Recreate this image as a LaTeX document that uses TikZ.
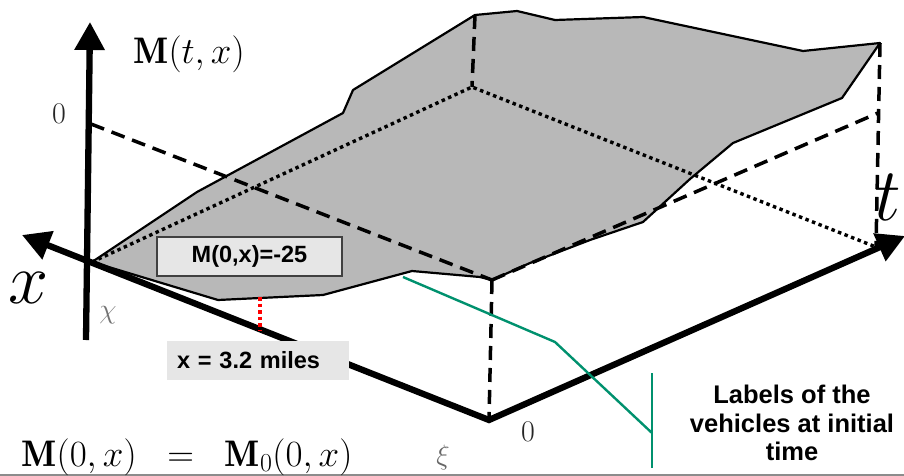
\documentclass[tikz,border=0pt]{standalone}
\usepackage{fix-cm}
\usepackage{fontspec}
\newfontfamily\lsans{Liberation Sans}
\usetikzlibrary{arrows.meta}
\definecolor{leadgreen}{RGB}{0,145,110}
\definecolor{surfgray}{RGB}{184,184,184}
\definecolor{boxgray}{RGB}{230,230,230}
\begin{document}
\begin{tikzpicture}[x=1pt,y=-1pt,
  axisline/.style={line width=6.3pt,line join=miter},
  bigtip/.style={-{Triangle[length=28pt,width=29pt]}},
  hidden/.style={line width=3.5pt,dash pattern=on 14pt off 8pt},
  dotline/.style={line width=3.4pt,dash pattern=on 3.5pt off 3.5pt},
  surf/.style={fill=surfgray,draw=black,line width=2.2pt,line join=round},
  lead/.style={draw=leadgreen,line width=2.4pt},
  tagbox/.style={fill=boxgray,font=\lsans\bfseries\fontsize{23.5}{26}\selectfont,inner sep=0pt},
  mathlbl/.style={inner sep=0pt}]
\useasboundingbox (0,0) rectangle (904,476);
% frame line at bottom
\coordinate (fl) at (0,475); \coordinate (fr) at (904,475);
\draw[black!45,line width=1.2pt] (fl) -- (fr);
% key points
\coordinate (O) at (489,420);
\coordinate (Mbot) at (86,340);
\coordinate (Mtop) at (90,22);
\coordinate (Xtip) at (22,235);
\coordinate (Ttip) at (905,236);
\coordinate (Mzero) at (91,124);
\coordinate (F) at (492,280);
\coordinate (R) at (878,113);
\coordinate (Rtop) at (880,43);
\coordinate (Rbot) at (876,247);
\coordinate (B) at (472,87);
\coordinate (Btop) at (475,15);
\coordinate (L) at (92,262);
% surface
\draw[surf] (L) -- (197,192) -- (343,113) -- (353,90) -- (Btop) -- (517,11) -- (555,20)
  -- (643,17) -- (803,51) -- (Rtop) -- (842,98) -- (733,143) -- (690,179) -- (643,222)
  -- (590,240) -- (530,263) -- (F) -- (480,277) -- (412,271) -- (323,295) -- (218,300) -- cycle;
% hidden box edges
\draw[hidden] (Mzero) -- (F);
\draw[hidden] (F) -- (O);
\draw[hidden] (F) -- (R);
\draw[hidden] (Rtop) -- (Rbot);
\draw[hidden] (Btop) -- (B);
\draw[dotline] (L) -- (B) -- (Rbot);
% axes
\draw[axisline,bigtip] (Mbot) -- (Mtop);
\draw[axisline,{Triangle[length=28pt,width=29pt]}-{Triangle[length=28pt,width=29pt]}] (Xtip) -- (O) -- (Ttip);
% red marker
\coordinate (r1) at (260,297); \coordinate (r2) at (260,331);
\draw[red,line width=4pt,dash pattern=on 3.5pt off 3pt] (r1) -- (r2);
% green leader
\coordinate (g1) at (403,277); \coordinate (g2) at (555,342); \coordinate (g3) at (652,433);
\coordinate (g4) at (652,373); \coordinate (g5) at (652,468);
\draw[lead,line join=miter] (g1) -- (g2) -- (g3);
\draw[lead] (g4) -- (g5);
% boxes
\node[tagbox,draw=black!75,line width=2pt,minimum width=185pt,minimum height=39pt] (b1) at (249.5,256.5) {M(0,x)=-25};
\node[tagbox,minimum width=182pt,minimum height=39pt,text width=162pt,align=left,inner xsep=10pt] (b2) at (258,360.5) {x = 3.2 miles};
% labels
\node[mathlbl] (mlab) at (189,54) {\fontsize{37}{40}\selectfont$\mathbf{M}(t,x)$};
\node[mathlbl,black!85] (zl) at (59,114) {\fontsize{30}{32}\selectfont 0};
\node[mathlbl,black!85] (zb) at (528,432) {\fontsize{30}{32}\selectfont 0};
\node[mathlbl,black!55] (chi) at (108,315) {\fontsize{28}{30}\selectfont$\chi$};
\node[mathlbl,black!60] (xi) at (443,457) {\fontsize{28}{30}\selectfont$\xi$};
\node[mathlbl] (xl) at (29,288) {\fontsize{72}{76}\selectfont$x$};
\node[mathlbl] (tl) at (888,197) {\fontsize{75}{80}\selectfont$t$};
\node[mathlbl] (eq) at (187,457) {\fontsize{37}{40}\selectfont$\mathbf{M}(0,x)\;\;=\;\;\mathbf{M}_0(0,x)$};
\node[align=center,inner sep=0pt,font=\lsans\bfseries\fontsize{25.5}{28.5}\selectfont] (veh) at (792,423) {Labels of the\\vehicles at initial\\time};
\end{tikzpicture}
\end{document}
